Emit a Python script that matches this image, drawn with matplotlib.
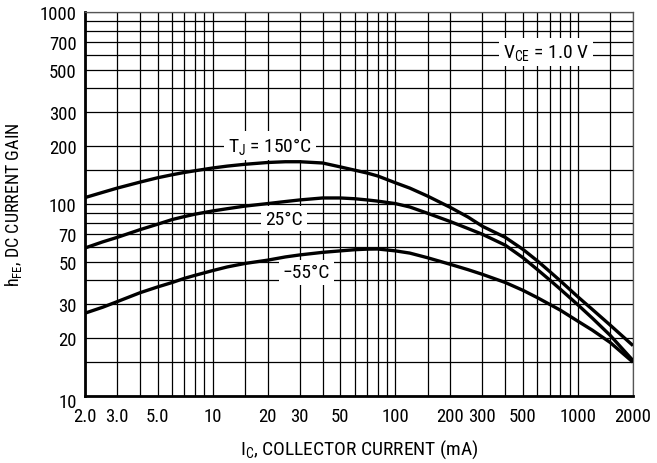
import matplotlib
matplotlib.use("Agg")
import matplotlib.pyplot as plt
import matplotlib.transforms as mtransforms
from matplotlib import font_manager

# ---- data ----
ic_ma = [2, 2.5, 3, 4, 5, 6, 7, 8, 10, 12, 15, 20, 25, 30, 40, 50, 60, 70, 80,
         100, 120, 150, 200, 250, 300, 400, 500, 600, 700, 800, 1000, 1200, 1500, 2000]
hfe_150 = [108, 115, 121, 130, 137, 142, 146, 149, 154, 157.5, 161, 164.5, 166, 166, 163.5,
           156, 150, 145, 140, 129, 121, 110, 96, 85.5, 76.5, 67, 58, 50.5, 44.5, 39.8,
           32.8, 28.2, 23.4, 18.3]
hfe_25 = [59, 63.5, 67, 73.5, 78.5, 83, 86, 88.5, 92, 94.5, 97.5, 100.5, 103, 105, 107.5,
          107.5, 106.5, 105, 103.5, 100.5, 96.5, 89.5, 81, 74.5, 69.5, 61, 52.5, 45.5,
          40.2, 36, 29.8, 25.4, 20.7, 15.3]
hfe_m55 = [27, 29, 31, 34.5, 37, 39, 41, 42.5, 45, 47, 49, 51, 53, 54.3, 56, 57, 57.8,
           58.2, 58.3, 57, 55.5, 52.5, 48.5, 45.5, 43, 39, 35.5, 32.5, 30, 28, 24.5,
           22, 19, 15]

x_ticks = [2, 3, 5, 10, 20, 30, 50, 100, 200, 300, 500, 1000, 2000]
x_ticklabels = ["2.0", "3.0", "5.0", "10", "20", "30", "50", "100", "200", "300", "500", "1000", "2000"]
y_ticks = [10, 20, 30, 50, 70, 100, 200, 300, 500, 700, 1000]
y_ticklabels = ["10", "20", "30", "50", "70", "100", "200", "300", "500", "700", "1000"]
x_grid = [2, 3, 4, 5, 6, 7, 8, 9, 10, 15, 20, 30, 40, 50, 60, 70, 80, 90, 100,
          150, 200, 300, 400, 500, 600, 700, 800, 900, 1000, 1500, 2000]
y_grid = [10, 15, 20, 30, 40, 50, 60, 70, 80, 90, 100, 150, 200, 300, 400, 500,
          600, 700, 800, 900, 1000]

# ---- font ----
available = {f.name for f in font_manager.fontManager.ttflist}
fam = next((f for f in ("Roboto Condensed", "Archivo Narrow", "Liberation Sans") if f in available),
           "DejaVu Sans")
plt.rcParams["font.family"] = [fam, "DejaVu Sans"]
plt.rcParams["mathtext.fontset"] = "custom"
plt.rcParams["mathtext.rm"] = fam
plt.rcParams["mathtext.it"] = fam
plt.rcParams["mathtext.default"] = "regular"

fig = plt.figure(figsize=(6.57, 4.64), dpi=100)
ax = fig.add_axes([85 / 657, 1 - 397 / 464, 548 / 657, 384 / 464])
ax.set_xscale("log")
ax.set_yscale("log")
ax.set_xlim(2, 2000)
ax.set_ylim(10, 1000)

for xv in x_grid:
    ax.axvline(xv, color="black", lw=0.9, zorder=1)
for yv in y_grid:
    ax.axhline(yv, color="black", lw=0.9, zorder=1)

for series in (hfe_150, hfe_25, hfe_m55):
    ax.plot(ic_ma, series, color="black", lw=2.4, zorder=3,
            solid_joinstyle="round", solid_capstyle="butt")

ax.set_xticks(x_ticks)
ax.set_xticklabels(x_ticklabels)
ax.set_yticks(y_ticks)
ax.set_yticklabels(y_ticklabels)
ax.xaxis.set_minor_locator(matplotlib.ticker.NullLocator())
ax.yaxis.set_minor_locator(matplotlib.ticker.NullLocator())
ax.tick_params(axis="x", length=0, labelsize=13.5, pad=8)
ax.tick_params(axis="y", length=0, labelsize=13.5, pad=6)

# lower the bottom "10" label slightly as in the reference
lbl10 = ax.get_yticklabels()[0]
lbl10.set_transform(lbl10.get_transform() + mtransforms.ScaledTranslation(0, -3 / 72, fig.dpi_scale_trans))

for s in ("left", "bottom"):
    ax.spines[s].set_linewidth(2.0)
for s in ("top", "right"):
    ax.spines[s].set_linewidth(0.9)
    ax.spines[s].set_color("#555555")

bbox = dict(boxstyle="square,pad=0.2", fc="white", ec="none")
lab_size = 14
ax.text(20.7, 202, r"T$_{\rm J}$ = 150°C", ha="center", va="center", fontsize=lab_size, bbox=bbox, zorder=2.5)
ax.text(24.6, 84, "25°C", ha="center", va="center", fontsize=lab_size, bbox=bbox, zorder=2.5)
ax.text(32.5, 44, "\u221255°C", ha="center", va="center", fontsize=lab_size, bbox=bbox, zorder=2.5)
ax.text(667, 619, r"V$_{\rm CE}$ = 1.0 V", ha="center", va="center", fontsize=lab_size, bbox=bbox, zorder=2.5)

ax.set_xlabel(r"I$_{\rm C}$, COLLECTOR CURRENT (mA)", fontsize=14, labelpad=9)
ax.set_ylabel(r"h$_{\rm FE}$, DC CURRENT GAIN", fontsize=13, labelpad=11)

fig.savefig("out.png", dpi=100)
